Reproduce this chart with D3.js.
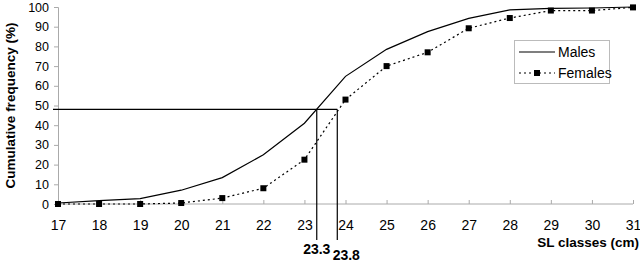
<!DOCTYPE html>
<html>
<head>
<meta charset="utf-8">
<script src="https://cdn.jsdelivr.net/npm/d3@7"></script>
<style>
  body { margin: 0; background: #fff; }
  svg { font-family: "Liberation Sans", Arial, sans-serif; }
</style>
</head>
<body>
<div id="chart"></div>
<script>
// SL classes (cm)
const classes = [17, 18, 19, 20, 21, 22, 23, 24, 25, 26, 27, 28, 29, 30, 31];
// cumulative frequency (%)
const males   = [0.5, 1.7, 2.7, 7, 13.4, 25, 41, 64.8, 78.5, 87.5, 94.2, 98.5, 99.3, 99.5, 100];
const females = [0, 0, 0, 0.5, 3, 8, 22.5, 53, 70, 77, 89.2, 94.4, 98.2, 98.2, 99.8];
const yTicks = [0, 10, 20, 30, 40, 50, 60, 70, 80, 90, 100];
// length at 50% maturity markers
const l50Level = 48;
const l50Values = [23.3, 23.8];

const width = 640, height = 263;
const margin = {top: 7, right: 7, bottom: 59, left: 58};

const svg = d3.select("#chart").append("svg")
    .attr("width", width)
    .attr("height", height);

const x = d3.scaleLinear().domain([17, 31]).range([margin.left, width - margin.right]);
const y = d3.scaleLinear().domain([0, 100]).range([height - margin.bottom, margin.top]);

const axisColor = "#aaa";

// y axis
const yAxis = svg.append("g")
    .attr("transform", `translate(${margin.left},0)`)
    .call(d3.axisLeft(y).tickValues(yTicks).tickSize(4).tickPadding(5));
yAxis.selectAll("line, path").attr("stroke", axisColor);
yAxis.selectAll("text").attr("font-size", 12.5).attr("fill", "#000")
    .attr("font-family", "Liberation Sans, Arial, sans-serif");

// x axis (ticks point up)
const xAxis = svg.append("g")
    .attr("transform", `translate(0,${y(0)})`)
    .call(d3.axisBottom(x).tickValues(classes).tickSize(-4).tickPadding(16));
xAxis.select(".domain").attr("d", `M${x(17)},0H${x(31)}`);
xAxis.selectAll("line, path").attr("stroke", axisColor);
xAxis.selectAll("text").attr("font-size", 14).attr("fill", "#000")
    .attr("font-family", "Liberation Sans, Arial, sans-serif");

// axis titles
svg.append("text")
    .attr("transform", `translate(15,${(y(0) + y(100)) / 2}) rotate(-90)`)
    .attr("text-anchor", "middle")
    .attr("font-size", 13.5)
    .attr("font-weight", "bold")
    .text("Cumulative frequency (%)");

svg.append("text")
    .attr("x", 639)
    .attr("y", 247)
    .attr("text-anchor", "end")
    .attr("font-size", 13.5)
    .attr("font-weight", "bold")
    .text("SL classes (cm)");

// L50 guide lines
svg.append("line")
    .attr("x1", margin.left - 5).attr("x2", x(l50Values[1]))
    .attr("y1", y(l50Level)).attr("y2", y(l50Level))
    .attr("stroke", "#000").attr("stroke-width", 1.2);

l50Values.forEach(function (v, i) {
    svg.append("line")
        .attr("x1", x(v)).attr("x2", x(v))
        .attr("y1", y(l50Level)).attr("y2", 240)
        .attr("stroke", "#000").attr("stroke-width", 1.2);
    svg.append("text")
        .attr("x", x(v) + (i === 0 ? 0 : 9))
        .attr("y", i === 0 ? 254 : 260)
        .attr("text-anchor", "middle")
        .attr("font-size", 14)
        .attr("font-weight", "bold")
        .text(v);
});

const line = d3.line()
    .x((d, i) => x(classes[i]))
    .y(d => y(d));

// males: solid line
svg.append("path")
    .datum(males)
    .attr("d", line)
    .attr("fill", "none")
    .attr("stroke", "#000")
    .attr("stroke-width", 1.2);

// females: dotted line with square markers
svg.append("path")
    .datum(females)
    .attr("d", line)
    .attr("fill", "none")
    .attr("stroke", "#000")
    .attr("stroke-width", 1.2)
    .attr("stroke-dasharray", "2,3");

svg.append("g")
    .selectAll("rect")
    .data(females)
    .enter()
    .append("rect")
    .attr("x", (d, i) => x(classes[i]) - 3)
    .attr("y", d => y(d) - 3)
    .attr("width", 6)
    .attr("height", 6)
    .attr("fill", "#000");

// legend
const legend = svg.append("g").attr("transform", "translate(514,40)");
legend.append("rect")
    .attr("x", 0.5).attr("y", 0.5)
    .attr("width", 95).attr("height", 43)
    .attr("fill", "#fff")
    .attr("stroke", "#bbb");
legend.append("line")
    .attr("x1", 5).attr("x2", 41).attr("y1", 12).attr("y2", 12)
    .attr("stroke", "#000").attr("stroke-width", 1.2);
legend.append("text")
    .attr("x", 44).attr("y", 17)
    .attr("font-size", 14)
    .text("Males");
legend.append("line")
    .attr("x1", 5).attr("x2", 41).attr("y1", 33).attr("y2", 33)
    .attr("stroke", "#000").attr("stroke-width", 1.2)
    .attr("stroke-dasharray", "2,3");
legend.append("rect")
    .attr("x", 20).attr("y", 30).attr("width", 6).attr("height", 6)
    .attr("fill", "#000");
legend.append("text")
    .attr("x", 44).attr("y", 38)
    .attr("font-size", 14)
    .text("Females");
</script>
</body>
</html>
